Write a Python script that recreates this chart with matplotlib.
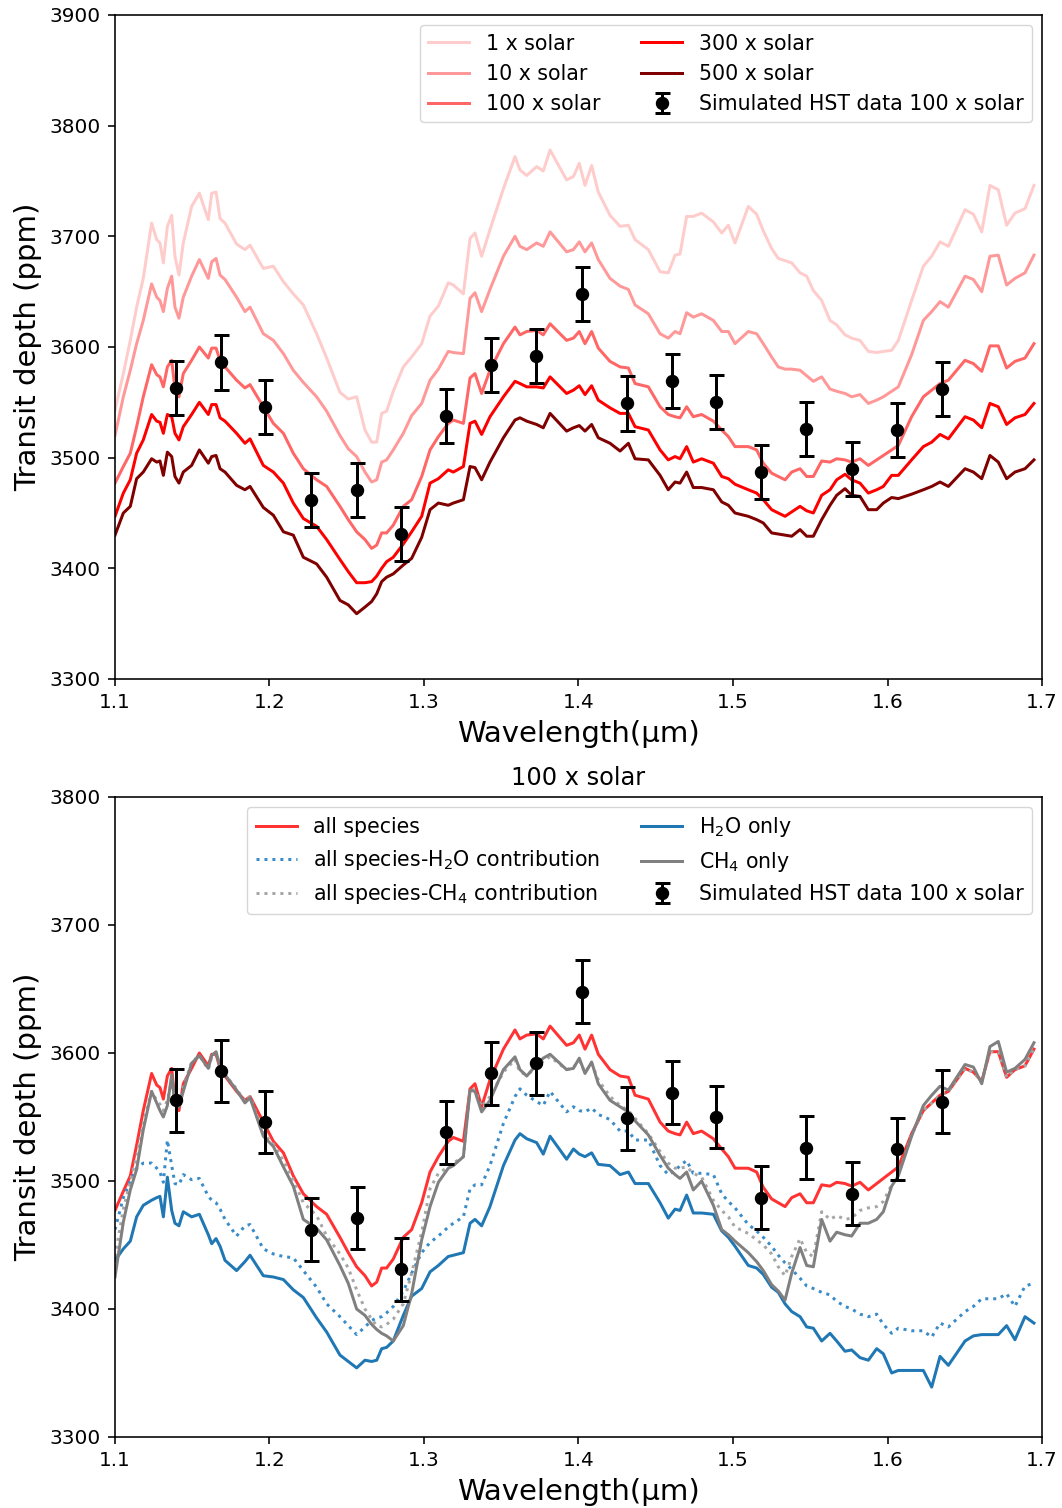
import matplotlib
matplotlib.use("Agg")
import matplotlib.pyplot as plt
import numpy as np

# ---------------- data ----------------
wavelength = [
    1.1000, 1.1054, 1.1099, 1.1140, 1.1183, 1.1237, 1.1270, 1.1291, 1.1313, 1.1339,
    1.1367, 1.1388, 1.1414, 1.1442, 1.1496, 1.1546, 1.1604, 1.1626, 1.1654, 1.1680,
    1.1712, 1.1787, 1.1841, 1.1874, 1.1960, 1.2025, 1.2090, 1.2154, 1.2219, 1.2305,
    1.2370, 1.2456, 1.2510, 1.2564, 1.2618, 1.2661, 1.2694, 1.2726, 1.2758, 1.2801,
    1.2866, 1.2920, 1.2985,
    1.3039, 1.3093, 1.3157, 1.3190, 1.3255, 1.3298, 1.3330, 1.3373, 1.3427, 1.3514,
    1.3589, 1.3621, 1.3665, 1.3729, 1.3772, 1.3816, 1.3923, 1.3967, 1.4005, 1.4042,
    1.4085, 1.4128, 1.4204, 1.4269, 1.4323, 1.4366, 1.4452, 1.4528, 1.4581, 1.4625,
    1.4657, 1.4700, 1.4743, 1.4797, 1.4873, 1.4927, 1.4970,
    1.5013, 1.5099, 1.5153, 1.5196, 1.5250, 1.5293, 1.5337, 1.5380, 1.5434, 1.5477,
    1.5520, 1.5574, 1.5628, 1.5671, 1.5725, 1.5768, 1.5822, 1.5876, 1.5930, 1.5973,
    1.6027, 1.6070, 1.6156, 1.6232, 1.6286, 1.6340, 1.6394, 1.6502, 1.6556, 1.6610,
    1.6663, 1.6717, 1.6771, 1.6825, 1.6890, 1.6948,
]

solar_1 = [
    3543, 3576, 3606, 3636, 3662, 3712, 3697, 3694, 3676, 3709,
    3719, 3682, 3665, 3694, 3727, 3739, 3715, 3739, 3740, 3716,
    3712, 3693, 3688, 3692, 3671, 3673, 3659, 3648, 3638, 3612,
    3590, 3559, 3553, 3555, 3525, 3514, 3514, 3540, 3542, 3560,
    3582, 3591, 3603,
    3628, 3637, 3658, 3656, 3648, 3698, 3703, 3682, 3706, 3743,
    3772, 3760, 3755, 3763, 3759, 3778, 3751, 3754, 3766, 3746,
    3764, 3740, 3719, 3709, 3710, 3697, 3688, 3668, 3667, 3683,
    3684, 3718, 3718, 3721, 3713, 3703, 3710,
    3694, 3727, 3720, 3705, 3689, 3680, 3678, 3676, 3667, 3664,
    3651, 3642, 3624, 3620, 3611, 3608, 3606, 3596, 3595, 3596,
    3597, 3606, 3642, 3673, 3682, 3695, 3691, 3724, 3720, 3704,
    3746, 3742, 3710, 3721, 3725, 3746,
]

solar_10 = [
    3520, 3555, 3579, 3603, 3624, 3657, 3645, 3642, 3632, 3653,
    3664, 3636, 3626, 3645, 3664, 3679, 3662, 3677, 3680, 3665,
    3661, 3645, 3632, 3636, 3612, 3606, 3594, 3579, 3568, 3555,
    3542, 3520, 3508, 3501, 3487, 3478, 3480, 3496, 3498, 3507,
    3522, 3538, 3549,
    3570, 3580, 3596, 3595, 3594, 3644, 3649, 3632, 3652, 3682,
    3700, 3691, 3688, 3694, 3691, 3704, 3686, 3688, 3695, 3686,
    3694, 3679, 3662, 3655, 3652, 3638, 3630, 3612, 3608, 3614,
    3612, 3631, 3627, 3630, 3624, 3614, 3614,
    3603, 3614, 3612, 3603, 3591, 3582, 3580, 3580, 3579, 3574,
    3569, 3573, 3562, 3560, 3558, 3555, 3557, 3549, 3552, 3555,
    3560, 3564, 3593, 3624, 3632, 3641, 3636, 3664, 3661, 3650,
    3682, 3683, 3656, 3662, 3667, 3683,
]

solar_100 = [
    3477, 3492, 3504, 3528, 3555, 3584, 3575, 3573, 3564, 3582,
    3588, 3562, 3555, 3576, 3588, 3600, 3590, 3599, 3599, 3588,
    3582, 3570, 3563, 3566, 3546, 3531, 3522, 3504, 3490, 3480,
    3474, 3456, 3444, 3433, 3426, 3418, 3421, 3432, 3432, 3439,
    3456, 3462, 3483,
    3507, 3519, 3531, 3534, 3531, 3572, 3576, 3558, 3579, 3603,
    3618, 3611, 3614, 3615, 3611, 3621, 3606, 3608, 3614, 3603,
    3614, 3599, 3587, 3582, 3581, 3567, 3564, 3546, 3539, 3537,
    3536, 3546, 3537, 3539, 3533, 3525, 3519,
    3510, 3510, 3507, 3495, 3486, 3483, 3480, 3487, 3490, 3483,
    3483, 3497, 3496, 3499, 3498, 3496, 3499, 3493, 3498, 3502,
    3507, 3511, 3537, 3555, 3561, 3567, 3570, 3588, 3585, 3578,
    3601, 3601, 3581, 3587, 3590, 3603,
]

solar_300 = [
    3447, 3468, 3480, 3504, 3516, 3539, 3533, 3532, 3522, 3539,
    3537, 3522, 3516, 3528, 3539, 3550, 3539, 3548, 3548, 3536,
    3533, 3522, 3513, 3517, 3493, 3487, 3477, 3459, 3445, 3438,
    3426, 3408, 3397, 3387, 3387, 3388, 3393, 3400, 3406, 3410,
    3422, 3433, 3447,
    3477, 3481, 3489, 3487, 3492, 3531, 3533, 3521, 3537, 3555,
    3569, 3567, 3564, 3564, 3563, 3573, 3558, 3561, 3565, 3557,
    3565, 3552, 3545, 3540, 3540, 3528, 3525, 3507, 3498, 3501,
    3499, 3510, 3496, 3499, 3495, 3483, 3481,
    3476, 3471, 3468, 3462, 3453, 3450, 3447, 3451, 3456, 3452,
    3450, 3466, 3471, 3480, 3485, 3480, 3477, 3468, 3471, 3474,
    3484, 3484, 3498, 3510, 3514, 3521, 3517, 3537, 3534, 3527,
    3549, 3546, 3530, 3536, 3539, 3549,
]

solar_500 = [
    3430, 3450, 3456, 3481, 3487, 3499, 3496, 3497, 3484, 3505,
    3501, 3483, 3477, 3487, 3493, 3507, 3495, 3501, 3502, 3490,
    3487, 3475, 3471, 3474, 3455, 3448, 3433, 3430, 3410, 3404,
    3392, 3371, 3367, 3359, 3365, 3370, 3377, 3388, 3392, 3395,
    3403, 3409, 3428,
    3453, 3459, 3457, 3459, 3462, 3492, 3491, 3480, 3496, 3518,
    3534, 3536, 3533, 3530, 3527, 3540, 3524, 3527, 3529, 3524,
    3530, 3518, 3513, 3506, 3513, 3499, 3498, 3484, 3471, 3478,
    3477, 3487, 3473, 3473, 3471, 3460, 3457,
    3450, 3447, 3444, 3441, 3432, 3431, 3430, 3429, 3435, 3429,
    3429, 3444, 3457, 3466, 3472, 3466, 3465, 3453, 3453, 3459,
    3464, 3463, 3467, 3471, 3474, 3478, 3474, 3490, 3487, 3481,
    3502, 3496, 3481, 3487, 3490, 3498,
]

h2o_only = [
    3438, 3447, 3453, 3472, 3481, 3485, 3487, 3488, 3472, 3503,
    3477, 3467, 3465, 3476, 3472, 3474, 3458, 3451, 3455, 3449,
    3438, 3430, 3437, 3442, 3426, 3425, 3423, 3415, 3409, 3393,
    3382, 3364, 3359, 3354, 3360, 3359, 3360, 3369, 3370, 3375,
    3395, 3410, 3416,
    3429, 3434, 3441, 3442, 3444, 3467, 3470, 3465, 3480, 3512,
    3532, 3537, 3533, 3530, 3521, 3535, 3517, 3525, 3521, 3519,
    3522, 3513, 3512, 3505, 3507, 3498, 3498, 3483, 3471, 3478,
    3477, 3489, 3475, 3475, 3474, 3461, 3456,
    3449, 3434, 3432, 3427, 3417, 3413, 3404, 3398, 3394, 3386,
    3385, 3375, 3381, 3375, 3367, 3368, 3362, 3360, 3369, 3365,
    3350, 3352, 3352, 3352, 3339, 3363, 3356, 3375, 3379, 3380,
    3380, 3380, 3387, 3376, 3394, 3389,
]

ch4_only = [
    3425, 3468, 3493, 3509, 3540, 3570, 3561, 3555, 3550, 3559,
    3583, 3560, 3558, 3570, 3592, 3598, 3588, 3598, 3601, 3589,
    3583, 3571, 3561, 3565, 3535, 3527, 3511, 3496, 3470, 3463,
    3454, 3434, 3420, 3400, 3395, 3388, 3384, 3381, 3379, 3375,
    3387, 3412, 3454,
    3480, 3499, 3510, 3512, 3519, 3571, 3570, 3554, 3563, 3587,
    3597, 3587, 3582, 3591, 3596, 3599, 3587, 3588, 3596, 3584,
    3593, 3576, 3563, 3558, 3554, 3547, 3536, 3520, 3510, 3505,
    3502, 3507, 3493, 3500, 3481, 3462, 3458,
    3453, 3444, 3437, 3430, 3419, 3414, 3407, 3428, 3448, 3434,
    3433, 3470, 3453, 3460, 3458, 3457, 3467, 3467, 3470, 3476,
    3496, 3504, 3535, 3559, 3567, 3574, 3571, 3591, 3589, 3576,
    3605, 3609, 3585, 3588, 3595, 3608,
]

minus_h2o = [
    3462, 3487, 3500, 3510, 3514, 3514, 3510, 3507, 3499, 3532,
    3512, 3498, 3497, 3505, 3501, 3502, 3488, 3485, 3483, 3478,
    3470, 3457, 3465, 3466, 3447, 3443, 3441, 3440, 3430, 3417,
    3404, 3394, 3387, 3380, 3386, 3391, 3393, 3394, 3397, 3402,
    3414, 3428, 3444,
    3452, 3457, 3464, 3467, 3472, 3494, 3497, 3497, 3512, 3545,
    3566, 3572, 3567, 3562, 3559, 3570, 3554, 3558, 3555, 3554,
    3557, 3552, 3548, 3539, 3539, 3532, 3532, 3512, 3505, 3508,
    3512, 3516, 3506, 3506, 3505, 3490, 3484,
    3479, 3466, 3461, 3456, 3449, 3442, 3436, 3431, 3424, 3418,
    3416, 3413, 3411, 3406, 3402, 3400, 3396, 3394, 3396, 3388,
    3381, 3385, 3383, 3383, 3378, 3389, 3386, 3398, 3402, 3408,
    3408, 3408, 3412, 3402, 3418, 3420,
]

minus_ch4 = [
    3441, 3478, 3500, 3519, 3545, 3570, 3563, 3560, 3555, 3563,
    3579, 3563, 3562, 3573, 3593, 3598, 3587, 3597, 3600, 3591,
    3583, 3572, 3562, 3566, 3537, 3529, 3516, 3501, 3483, 3473,
    3457, 3443, 3432, 3415, 3400, 3392, 3387, 3386, 3388, 3392,
    3404, 3428, 3460,
    3494, 3506, 3511, 3514, 3519, 3572, 3571, 3558, 3566, 3585,
    3595, 3585, 3583, 3588, 3594, 3597, 3587, 3589, 3594, 3585,
    3592, 3579, 3566, 3559, 3555, 3549, 3537, 3523, 3514, 3510,
    3510, 3511, 3506, 3503, 3485, 3477, 3472,
    3464, 3459, 3454, 3450, 3443, 3433, 3426, 3441, 3455, 3444,
    3441, 3476, 3470, 3473, 3470, 3471, 3477, 3479, 3480, 3484,
    3497, 3505, 3536, 3555, 3561, 3567, 3570, 3588, 3585, 3578,
    3601, 3601, 3581, 3587, 3590, 3603,
]

hst_wl = [1.1395, 1.1684, 1.1973, 1.2267, 1.2564, 1.2853, 1.3142, 1.3432, 1.3727,
          1.4025, 1.4314, 1.4603, 1.4892, 1.5181, 1.5472, 1.5768, 1.6061, 1.6353]
hst_depth = [3563, 3586, 3546, 3462, 3471, 3431, 3538, 3584, 3592,
             3648, 3549, 3569, 3550, 3487, 3526, 3490, 3525, 3562]
hst_err = [24.5] * len(hst_wl)

top_labels = ["1 x solar", "10 x solar", "100 x solar", "300 x solar", "500 x solar"]
hst_label = "Simulated HST data 100 x solar"
x_ticks = [1.1, 1.2, 1.3, 1.4, 1.5, 1.6, 1.7]

# ---------------- figure ----------------
S = 1.44  # scale of the reference rendering
plt.rcParams['font.family'] = ['DejaVu Sans']
plt.rcParams['axes.linewidth'] = 0.8 * S
W, H = 1062, 1508
fig = plt.figure(figsize=(W / 100, H / 100), dpi=100)

ax1 = fig.add_axes([115 / W, 1 - 679 / H, 927 / W, 664 / H])
ax2 = fig.add_axes([115 / W, 1 - 1437 / H, 927 / W, 640 / H])

wl = np.array(wavelength)
lw = 1.5 * S
top_series = [solar_1, solar_10, solar_100, solar_300, solar_500]
top_colors = ['#ffcccc', '#ff9999', '#ff6666', '#ff0000', '#800000']
for vals, col, lab in zip(top_series, top_colors, top_labels):
    ax1.plot(wl, vals, color=col, lw=lw, label=lab)

err_kw = dict(fmt='o', color='black', ms=6 * S, elinewidth=lw, capsize=5.4, capthick=lw)
ax1.errorbar(hst_wl, hst_depth, yerr=hst_err, label=hst_label, **err_kw)

ax2.plot(wl, solar_100, color='#ff3333', lw=lw, label='all species')
ax2.plot(wl, minus_h2o, color='#3a8cc8', lw=lw, ls=':', label='all species-H$_2$O contribution')
ax2.plot(wl, minus_ch4, color='#a6a6a6', lw=lw, ls=':', label='all species-CH$_4$ contribution')
ax2.plot(wl, h2o_only, color='#1f77b4', lw=lw, label='H$_2$O only')
ax2.plot(wl, ch4_only, color='#808080', lw=lw, label='CH$_4$ only')
ax2.errorbar(hst_wl, hst_depth, yerr=hst_err, label=hst_label, **err_kw)

for ax, ylim in ((ax1, (3300, 3900)), (ax2, (3300, 3800))):
    ax.set_xlim(1.1, 1.7)
    ax.set_ylim(*ylim)
    ax.set_xticks(x_ticks)
    ax.set_yticks(np.arange(ylim[0], ylim[1] + 1, 100))
    ax.tick_params(labelsize=10 * S, length=3.5 * S, width=0.8 * S, pad=3.5 * S)
    ax.set_xlabel('Wavelength(μm)', fontsize=21, labelpad=4 * S)
    ax.set_ylabel('Transit depth (ppm)', fontsize=21, labelpad=4 * S)
    ax.legend(ncol=2, loc='upper right', fontsize=14.8, borderaxespad=0.5,
              handlelength=2.0, columnspacing=2.0, labelspacing=0.5)

ax2.set_title('100 x solar', fontsize=12 * S, pad=6 * S)

fig.savefig('out.png', dpi=100)
